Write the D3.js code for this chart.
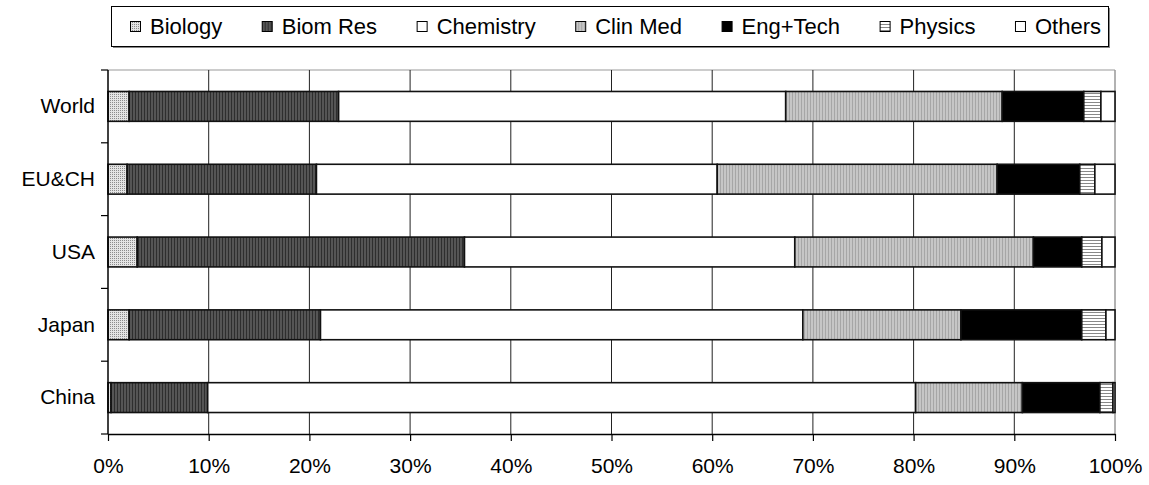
<html>
<script src="https://d3js.org/d3.v7.min.js"></script>
<head>
<style>
  body { margin: 0; background: #fff; }
  text { font-family: Arial, "Liberation Sans", sans-serif; }
</style>
</head>
<body>
<svg id="chart" width="1149" height="485"></svg>
<script>
// category labels (top to bottom)
const regions = ["World", "EU&CH", "USA", "Japan", "China"];
const fields = ["Biology", "Biom Res", "Chemistry", "Clin Med", "Eng+Tech", "Physics", "Others"];

// share of publications (%) per field, in region order
const biology   = [2.1, 1.9, 2.9, 2.1, 0.3];
const biomRes   = [20.8, 18.8, 32.5, 19.0, 9.6];
const chemistry = [44.4, 39.8, 32.8, 47.9, 70.3];
const clinMed   = [21.5, 27.8, 23.7, 15.7, 10.6];
const engTech   = [8.1, 8.2, 4.8, 12.0, 7.7];
const physics   = [1.7, 1.5, 2.0, 2.4, 1.3];
const others    = [1.4, 2.0, 1.3, 0.9, 0.2];

const xTicks = [0, 10, 20, 30, 40, 50, 60, 70, 80, 90, 100];

const series = [biology, biomRes, chemistry, clinMed, engTech, physics, others];

const svg = d3.select("#chart");
const mLeft = 108, mRight = 1115, mTop = 70, mBottom = 434;

// fill patterns
const defs = svg.append("defs");
function pat(id, w, h, bg, draw) {
    const p = defs.append("pattern").attr("id", id)
        .attr("patternUnits", "userSpaceOnUse").attr("width", w).attr("height", h);
    p.append("rect").attr("width", w).attr("height", h).attr("fill", bg);
    draw(p);
}
pat("p-bio", 2, 2, "#e4e4e4", p => {
    p.append("rect").attr("x", 0).attr("y", 0).attr("width", 1).attr("height", 1).attr("fill", "#8c8c8c");
});
pat("p-biom", 3, 3, "#555", p => {
    p.append("rect").attr("x", 0).attr("y", 0).attr("width", 1).attr("height", 3).attr("fill", "#2e2e2e");
});
pat("p-clin", 3, 3, "#c6c6c6", p => {
    p.append("rect").attr("x", 0).attr("y", 0).attr("width", 1).attr("height", 3).attr("fill", "#a6a6a6");
});
pat("p-phys", 3, 3, "#fff", p => {
    p.append("rect").attr("x", 0).attr("y", 0).attr("width", 3).attr("height", 1).attr("fill", "#888");
});
const fills = ["url(#p-bio)", "url(#p-biom)", "#fff", "url(#p-clin)", "#000", "url(#p-phys)", "#fff"];

const x = d3.scaleLinear().domain([0, 100]).range([mLeft, mRight]);
const y = d3.scaleBand().domain(regions).range([mTop, mBottom]).padding(0);
const barH = y.bandwidth() * 0.41;

// plot border (gray top/right)
svg.append("line").attr("x1", mLeft).attr("x2", mRight).attr("y1", mTop).attr("y2", mTop)
    .attr("stroke", "#999").attr("stroke-width", 1);
svg.append("line").attr("x1", mRight).attr("x2", mRight).attr("y1", mTop).attr("y2", mBottom)
    .attr("stroke", "#999").attr("stroke-width", 1.5);

// vertical gridlines
svg.append("g").selectAll("line")
    .data(xTicks.filter(d => d > 0 && d < 100))
    .join("line")
    .attr("x1", d => x(d)).attr("x2", d => x(d))
    .attr("y1", mTop).attr("y2", mBottom)
    .attr("stroke", "#222").attr("stroke-width", 1);

// stacked bars
const stacked = regions.map((r, i) => {
    let acc = 0;
    return series.map((s, k) => {
        const x0 = acc; acc += s[i];
        return {region: r, k: k, x0: x0, x1: acc};
    });
}).flat();

svg.append("g").selectAll("rect")
    .data(stacked)
    .join("rect")
    .attr("x", d => x(d.x0))
    .attr("width", d => x(d.x1) - x(d.x0))
    .attr("y", d => y(d.region) + (y.bandwidth() - barH) / 2)
    .attr("height", barH)
    .attr("fill", d => fills[d.k])
    .attr("stroke", "#111")
    .attr("stroke-width", 1.6);

// x axis
const xAxis = svg.append("g")
    .attr("transform", "translate(0," + mBottom + ")")
    .call(d3.axisBottom(x).tickValues(xTicks).tickFormat(d => d + "%").tickSize(7).tickSizeOuter(0).tickPadding(17));
xAxis.select(".domain").attr("stroke", "#000").attr("stroke-width", 1.5);
xAxis.selectAll(".tick line").attr("stroke", "#000").attr("stroke-width", 1.2);
xAxis.selectAll("text").attr("font-size", 21).attr("fill", "#000")
    .attr("font-family", "Arial, 'Liberation Sans', sans-serif");

// y axis: labels at band centres, ticks at band edges
const yAxis = svg.append("g")
    .attr("transform", "translate(" + mLeft + ",0)")
    .call(d3.axisLeft(y).tickSize(0).tickPadding(13));
yAxis.select(".domain").remove();
yAxis.selectAll("text").attr("font-size", 21).attr("fill", "#000")
    .attr("font-family", "Arial, 'Liberation Sans', sans-serif");

const edges = regions.map(r => y(r)).concat([mBottom]);
svg.append("line").attr("x1", mLeft).attr("x2", mLeft).attr("y1", mTop).attr("y2", mBottom)
    .attr("stroke", "#000").attr("stroke-width", 1.5);
svg.append("g").selectAll("line")
    .data(edges)
    .join("line")
    .attr("x1", mLeft - 7).attr("x2", mLeft)
    .attr("y1", d => d).attr("y2", d => d)
    .attr("stroke", "#000").attr("stroke-width", 1.2);

// legend
const lg = svg.append("g");
lg.append("rect").attr("x", 113).attr("y", 8).attr("width", 997).attr("height", 40)
    .attr("fill", "#888");
lg.append("rect").attr("x", 111.5).attr("y", 6.5).attr("width", 997).attr("height", 40)
    .attr("fill", "#fff").attr("stroke", "#000").attr("stroke-width", 1);

const items = fields.map((f, k) => {
    const g = lg.append("g");
    g.append("rect").attr("x", 0.5).attr("y", 21.5).attr("width", 10).attr("height", 10)
        .attr("fill", fills[k]).attr("stroke", "#000").attr("stroke-width", 1);
    const t = g.append("text").attr("x", 20).attr("y", 34)
        .attr("font-size", 22).attr("fill", "#000").text(f);
    return {g: g, w: 20 + t.node().getComputedTextLength()};
});
const legStart = 130, legEnd = 1101;
const gap = (legEnd - legStart - d3.sum(items, d => d.w)) / (items.length - 1);
let lx = legStart;
items.forEach(it => {
    it.g.attr("transform", "translate(" + lx + ",0)");
    lx += it.w + gap;
});
</script>
</body>
</html>
